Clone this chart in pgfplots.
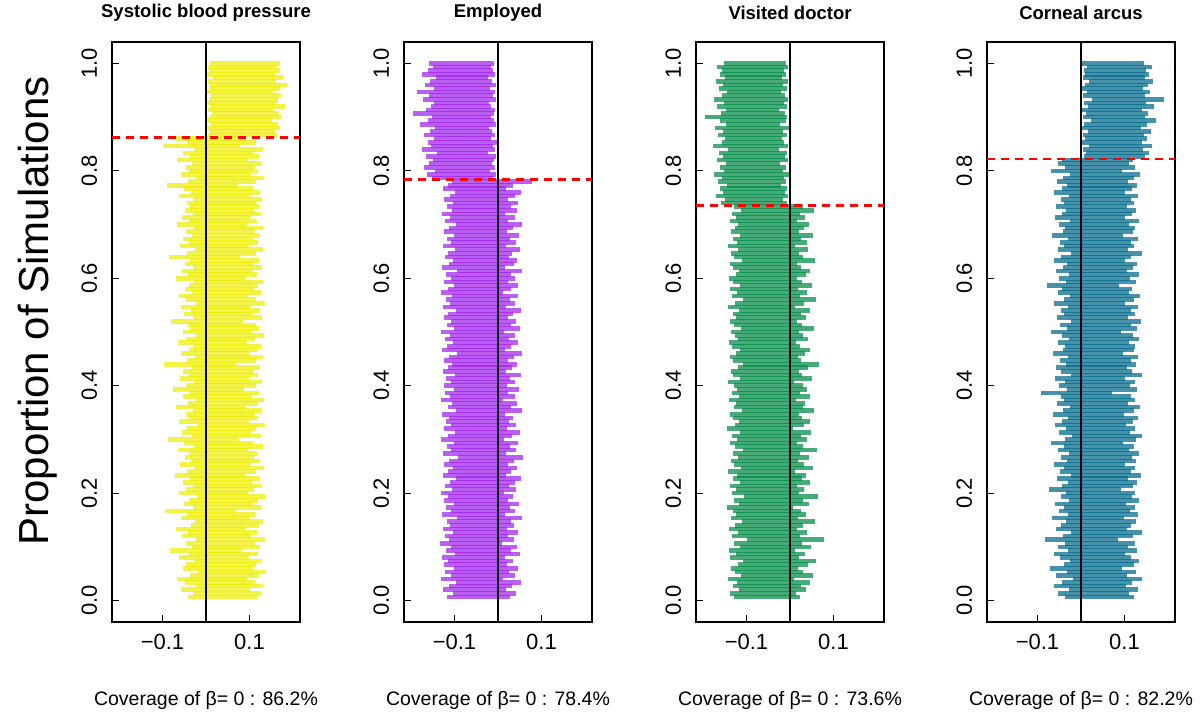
\documentclass[border=0pt]{standalone}
\usepackage{pgfplots}
\pgfplotsset{compat=1.18}
\usepackage{pgfplotstable}
\usepackage{fontspec}
\setmainfont{Liberation Sans}
\definecolor{cyel}{HTML}{EEEE00}
\definecolor{cpur}{HTML}{A020F0}
\definecolor{cgrn}{HTML}{008B45}
\definecolor{cblu}{HTML}{00688B}

% interval ends in thousandths: a b = panel 1, c d = panel 2, e f = panel 3, g h = panel 4
\pgfplotstableread{
a b c d e f g h
-42 118 -118 28 -128 22 -36 122
-31 126 -104 41 -139 14 -52 111
-57 101 -127 19 -117 37 -28 131
-24 132 -112 33 -132 25 -61 104
-48 112 -96 52 -121 45 -44 118
-66 95 -131 12 -143 9 -19 139
-37 121 -109 38 -112 53 -57 106
-19 138 -122 26 -126 31 -33 127
-52 107 -101 47 -135 18 -71 95
-45 115 -124 21 -119 42 -40 121
-28 129 -115 35 -108 60 -25 134
-61 99 -129 15 -137 20 -48 115
-39 119 -99 50 -124 34 -63 101
-83 82 -119 29 -141 12 -30 129
-33 124 -107 43 -115 48 -54 109
-47 113 -133 9 -129 27 -37 125
-22 135 -113 36 -98 78 -82 84
-55 104 -121 24 -133 23 -41 120
-41 117 -103 45 -120 40 -22 140
-68 92 -126 20 -140 15 -58 105
-35 122 -111 37 -127 29 -47 116
-26 131 -117 30 -110 57 -34 126
-58 102 -95 55 -136 19 -66 99
-44 114 -128 16 -123 36 -29 131
-95 70 -108 40 -131 26 -51 112
-30 127 -120 27 -144 8 -39 123
-51 108 -100 48 -118 44 -60 103
-38 120 -125 22 -129 30 -27 133
-20 137 -114 34 -106 64 -45 117
-63 97 -130 13 -134 21 -35 125
-46 111 -106 42 -125 33 -74 91
-29 128 -122 25 -138 16 -43 119
-54 105 -110 39 -116 47 -31 128
-36 123 -97 53 -130 28 -56 107
-71 90 -127 18 -122 37 -24 137
-43 116 -116 31 -142 11 -49 114
-25 133 -104 44 -113 52 -38 124
-59 100 -123 23 -128 32 -62 100
-34 125 -112 36 -136 19 -33 127
-49 110 -93 58 -119 43 -46 117
-40 118 -126 19 -132 24 -28 133
-64 96 -109 41 -109 61 -53 110
-27 130 -118 28 -127 31 -40 122
-50 109 -102 46 -139 17 -68 96
-88 76 -131 14 -121 39 -37 126
-32 126 -114 32 -133 26 -21 141
-56 103 -99 51 -115 49 -50 113
-43 115 -124 21 -145 7 -35 124
-21 136 -107 42 -126 33 -59 104
-62 98 -120 26 -118 45 -44 119
-38 120 -113 35 -131 27 -30 130
-47 112 -128 17 -137 20 -64 99
-30 128 -96 54 -111 56 -42 121
-69 93 -116 30 -129 29 -26 135
-41 117 -105 43 -124 35 -55 108
-24 133 -132 11 -140 14 -39 123
-53 106 -111 38 -117 46 -47 116
-36 122 -121 24 -134 22 -92 72
-76 87 -101 49 -122 38 -32 129
-45 114 -125 20 -128 31 -51 112
-28 129 -108 40 -143 10 -36 125
-60 99 -119 28 -114 51 -60 102
-39 119 -98 52 -130 27 -23 139
-52 107 -127 18 -136 21 -45 117
-33 125 -115 33 -120 41 -57 106
-97 68 -106 44 -107 66 -34 127
-44 115 -123 22 -132 25 -48 115
-26 131 -112 37 -138 18 -29 132
-57 102 -94 56 -125 34 -65 97
-40 118 -129 15 -116 47 -41 121
-31 127 -117 31 -133 24 -37 124
-65 95 -103 46 -141 13 -52 111
-46 113 -122 25 -119 42 -27 134
-23 134 -110 39 -127 30 -43 119
-54 104 -130 13 -135 20 -70 93
-37 121 -100 50 -112 54 -33 128
-42 116 -118 29 -129 28 -49 114
-80 84 -107 42 -138 17 -24 137
-29 128 -124 22 -123 37 -56 107
-50 109 -114 34 -131 26 -38 123
-35 123 -97 53 -118 45 -46 116
-58 101 -126 19 -142 12 -31 130
-22 135 -111 38 -126 33 -61 101
-45 114 -120 27 -109 59 -40 121
-63 97 -105 45 -134 22 -25 136
-32 126 -131 12 -121 38 -53 110
-48 110 -116 31 -137 19 -44 118
-39 119 -102 47 -115 50 -78 88
-27 130 -123 23 -130 28 -35 126
-70 91 -109 40 -140 15 -50 113
-41 117 -119 29 -124 36 -28 133
-55 105 -95 55 -117 46 -58 105
-30 128 -128 17 -132 25 -41 120
-49 109 -112 36 -139 16 -33 128
-36 122 -104 44 -110 58 -63 100
-85 79 -121 26 -128 31 -45 116
-44 114 -115 33 -135 21 -22 139
-25 132 -98 51 -120 41 -54 109
-60 99 -127 19 -143 11 -39 122
-38 120 -108 41 -122 39 -48 114
-52 107 -118 28 -131 26 -30 131
-33 125 -101 49 -114 52 -67 96
-46 113 -125 21 -136 20 -42 119
-27 131 -113 35 -127 32 -36 125
-67 94 -96 54 -119 44 -51 111
-40 118 -122 24 -138 17 -26 134
-55 104 -110 39 -125 35 -60 102
-31 127 -129 15 -133 23 -43 118
-48 111 -106 43 -113 55 -34 127
-37 121 -117 30 -129 29 -57 106
-44 115 -103 46 -158 -8 -39 122
-29 129 -124 22 -149 -15 -47 115
-62 98 -111 38 -171 -4 -28 132
-35 123 -99 52 -153 -12 -62 100
-51 108 -127 18 -162 -6 -44 118
-90 74 -114 34 -145 -21 -32 129
-42 116 -105 77 -166 -9 -55 107
-24 134 -152 -11 -156 -13 -41 121
-57 103 -163 -5 -174 -3 -25 136
-39 119 -145 -18 -151 -17 -69 95
-47 112 -171 -7 -160 -10 -37 124
-32 126 -158 -14 -147 -24 -52 110
-66 95 -149 -9 -168 -5 -43 119
-37 121 -166 -4 -155 -12 6 148
-52 107 -141 -22 -163 -7 12 156
-28 130 -175 -6 -142 -26 4 143
-99 78 -155 -12 -177 -4 19 163
-44 114 -162 -3 -157 -14 3 140
-71 90 -148 -16 -150 -19 9 152
5 162 -169 -8 -165 -8 5 145
8 158 -157 -13 -154 -16 15 160
3 170 -144 -20 -172 -3 2 138
11 165 -180 -5 -148 -22 8 151
2 152 -160 -10 -161 -9 22 172
6 175 -151 -15 -195 -6 4 147
14 168 -196 -9 -159 -11 11 155
4 157 -165 -6 -146 -25 3 141
9 181 -153 -17 -167 -6 16 168
2 160 -148 -21 -152 -14 7 150
7 166 -172 -4 -175 -4 25 190
12 173 -159 -12 -157 -12 5 146
3 155 -185 -7 -144 -20 13 158
6 169 -146 -19 -163 -7 3 143
10 185 -167 -5 -153 -15 9 154
4 161 -156 -14 -170 -5 18 165
15 176 -143 -23 -149 -18 4 147
2 159 -174 -8 -161 -9 10 157
8 171 -161 -11 -156 -13 6 149
5 164 -150 -16 -168 -4 14 162
9 170 -158 -9 -152 -10 3 144
}\data

\pgfplotsset{panel/.style={
  scale only axis, width=188bp, height=580bp, anchor=south west,
  xmin=-0.216, xmax=0.216, ymin=-0.04, ymax=1.04,
  xtick={-0.1,0.1}, xticklabels={−0.1,0.1},
  ytick={0,0.2,0.4,0.6,0.8,1}, yticklabels={0.0,0.2,0.4,0.6,0.8,1.0},
  tick align=inside, xtick pos=bottom, ytick pos=left,
  major tick length=7bp, tick style={black, line width=1bp},
  axis line style={line width=1.2bp},
  ticklabel style={font=\fontsize{22bp}{26bp}\selectfont},
  xticklabel style={anchor=north, inner sep=0pt, outer sep=12bp},
  yticklabel style={rotate=90, anchor=south, inner sep=0pt, outer sep=15bp},
  title style={font=\bfseries\fontsize{18.5bp}{22bp}\selectfont, at={(axis description cs:0.5,1)}, anchor=center, yshift=23bp},
  xlabel style={font=\fontsize{19.5bp}{23bp}\selectfont, at={(axis description cs:0.5,0)}, anchor=center, yshift=-78bp},
}}

\newcommand{\intervals}[3]{%
  \addplot[draw=#1, line width=4.6bp, draw opacity=0.72,
    quiver={u=(\thisrow{#3}-\thisrow{#2})/1000, v=0}]
    table[x expr=\thisrow{#2}/1000, y expr=(\coordindex+1)/150] {\data};
}
\newcommand{\refl}[1]{%
  \addplot[black, line width=2.4bp] coordinates {(0,-0.04) (0,1.04)};
  \addplot[red, line width=2.5bp, dash pattern=on 8bp off 6bp] coordinates {(-0.216,#1) (0.216,#1)};
}

\begin{document}
\begin{tikzpicture}
\path[use as bounding box] (0,0) rectangle (1201bp,717bp);
\node[rotate=90, font=\fontsize{42bp}{48bp}\selectfont] at (38bp,406bp) {Proportion of Simulations};

\begin{axis}[panel, at={(112bp,95bp)}, title={Systolic blood pressure}, xlabel={Coverage of β= 0 : 86.2\%}]
\intervals{cyel}{a}{b}
\refl{0.862}
\end{axis}

\begin{axis}[panel, at={(404bp,95bp)}, title={Employed}, xlabel={Coverage of β= 0 : 78.4\%}]
\intervals{cpur}{c}{d}
\refl{0.784}
\end{axis}

\begin{axis}[panel, at={(696bp,95bp)}, title={Visited doctor}, xlabel={Coverage of β= 0 : 73.6\%}]
\intervals{cgrn}{e}{f}
\refl{0.736}
\end{axis}

\begin{axis}[panel, at={(987bp,95bp)}, title={Corneal arcus}, xlabel={Coverage of β= 0 : 82.2\%}]
\intervals{cblu}{g}{h}
\refl{0.822}
\end{axis}
\end{tikzpicture}
\end{document}
